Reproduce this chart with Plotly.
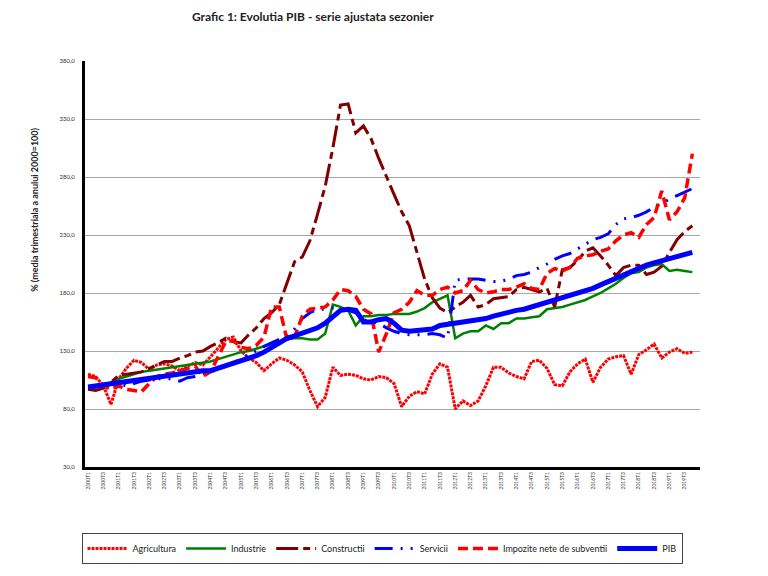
import plotly.graph_objects as go

quarters = [f"{y}T{q}" for y in range(2000, 2020) for q in range(1, 5)]

agricultura = [110, 108, 100, 84, 106, 115, 122, 120, 114, 118,
               119, 117, 113, 117, 120, 118, 125, 133, 140, 142,
               130, 124, 120, 113, 119, 124, 122, 118, 112, 96,
               82, 90, 116, 109, 110, 109, 106, 105, 108, 107,
               102, 82, 91, 95, 93, 110, 119, 116, 80, 87,
               83, 87, 100, 116, 116, 111, 108, 106, 121, 122,
               115, 101, 100, 112, 119, 123, 103, 116, 123, 125,
               126, 110, 127, 131, 136, 124, 129, 132, 128, 129]

industrie = [99, 99, 100, 103, 106, 108, 110, 112, 113, 114,
             115, 116, 117, 118, 119, 120, 121, 123, 125, 127,
             129, 130, 132, 134, 136, 138, 140, 141, 141, 140,
             140, 145, 170, 168, 165, 152, 160, 160, 161, 161,
             162, 162, 162, 164, 167, 172, 175, 178, 141, 145,
             147, 147, 152, 149, 154, 154, 158, 158, 159, 160,
             166, 167, 168, 170, 172, 174, 177, 180, 184, 188,
             193, 197, 198, 202, 204, 205, 199, 200, 199, 198]

constructii = [97, 96, 98, 103, 109, 110, 111, 112, 115, 118,
               121, 121, 124, 126, 129, 130, 134, 137, 141, 138,
               137, 144, 150, 158, 163, 170, 188, 207, 211, 225,
               248, 272, 305, 342, 343, 318, 324, 313, 296, 280,
               265, 250, 238, 215, 192, 176, 167, 163, 168, 172,
               178, 168, 170, 175, 176, 177, 183, 185, 183, 181,
               184, 168, 200, 202, 208, 216, 219, 212, 204, 195,
               202, 204, 204, 196, 198, 203, 215, 226, 233, 238]

servicii = [98, 99, 100, 101, 102, 100, 102, 104, 105, 106,
            106, 106, 104, 107, 108, 110, 112, 114, 117, 120,
            123, 127, 130, 134, 137, 140, 143, 149, 158, 163,
            166, 166, 167, 166, 165, 163, 157, 155, 154, 150,
            147, 145, 144, 144, 144, 145, 144, 141, 191, 192,
            192, 192, 191, 190, 190, 192, 195, 196, 198, 202,
            205, 209, 212, 214, 218, 222, 226, 228, 231, 239,
            244, 245, 247, 250, 254, 257, 261, 264, 267, 270]

impozite = [108, 107, 100, 97, 100, 97, 96, 95, 102, 108,
            110, 111, 113, 115, 117, 108, 112, 125, 138, 139,
            133, 132, 135, 142, 168, 168, 140, 142, 160, 166,
            167, 168, 174, 183, 182, 177, 166, 162, 129, 145,
            163, 166, 172, 182, 178, 178, 183, 185, 180, 182,
            191, 183, 180, 181, 183, 183, 185, 188, 184, 183,
            197, 201, 199, 202, 210, 212, 213, 216, 218, 225,
            230, 232, 228, 239, 245, 268, 243, 250, 262, 300]

pib = [99, 100, 101, 102, 102.5, 104, 105, 106, 107, 107.5,
       108.5, 109, 110, 111, 112, 113, 113, 115, 117, 119,
       122, 124, 126, 129, 133, 136, 141, 143, 145, 147,
       150, 154, 160, 165, 166, 165, 155, 155, 157, 158,
       154, 148, 147, 148, 149, 149, 152, 153, 153, 155,
       156, 157, 158, 160, 162, 164, 165, 166, 168, 170,
       171, 173, 175, 177, 179, 181, 184, 187, 190, 193,
       196, 199, 202, 204, 206, 208, 210, 211, 213, 215]

names = ["Agricultura", "Industrie", "Constructii", "Servicii",
         "Impozite nete de subventii", "PIB"]
series = [agricultura, industrie, constructii, servicii, impozite, pib]
styles = [
    dict(color="#FF0000", width=3, dash="3px,1px"),
    dict(color="#008000", width=2.5, dash="solid"),
    dict(color="#800000", width=3, dash="22px,5px,7px,5px"),
    dict(color="#0000FF", width=3, dash="18px,8px,2px,8px,2px,8px"),
    dict(color="#FF0000", width=3.5, dash="10px,5px"),
    dict(color="#0000FF", width=5, dash="solid"),
]

fig = go.Figure()
for n, s, st in zip(names, series, styles):
    fig.add_trace(go.Scatter(x=quarters, y=s, name=n, mode="lines", line=st))

fig.update_layout(
    width=768, height=576,
    margin=dict(l=85, r=68, t=61, b=103),
    paper_bgcolor="white", plot_bgcolor="white",
    separators=",.",
    font=dict(family="Lato, Liberation Sans, sans-serif", color="#222"),
    showlegend=True,
    legend=dict(orientation="h", x=(382 - 85) / 615, xanchor="center",
                y=(473 - 540) / 412, yanchor="top",
                bordercolor="#444", borderwidth=1, itemwidth=40,
                font=dict(size=9, family="Lato, Liberation Sans, sans-serif"),
                tracegroupgap=0),
)

fig.update_xaxes(
    type="category", range=[-0.4, 80],
    tickvals=quarters[::2], ticktext=quarters[::2],
    tickangle=-90, tickfont=dict(size=5, color="#333"),
    showline=True, linecolor="black", linewidth=3,
    showgrid=False, ticks="", zeroline=False,
)
fig.update_yaxes(
    range=[30, 380], tickvals=[30, 80, 130, 180, 230, 280, 330, 380],
    tickformat=".1f", tickfont=dict(size=6, color="#333"),
    showline=True, linecolor="black", linewidth=3,
    showgrid=True, gridcolor="#A6A6A6", gridwidth=1.2,
    ticks="", ticklabelstandoff=6, zeroline=False,
)

fig.add_annotation(text="<b>Grafic 1: Evolutia PIB - serie ajustata sezonier</b>",
                   xref="paper", yref="paper", x=(313 - 85) / 615, y=(473 - 16) / 412,
                   showarrow=False, font=dict(size=12, color="#222"),
                   xanchor="center", yanchor="middle")
fig.add_annotation(text="<b>% (media trimestriala a anului 2000=100)</b>",
                   xref="paper", yref="paper", x=(35 - 85) / 615, y=(473 - 212) / 412,
                   showarrow=False, textangle=-90, font=dict(size=9, color="#222"),
                   xanchor="center", yanchor="middle")

fig.write_html("out.html")
